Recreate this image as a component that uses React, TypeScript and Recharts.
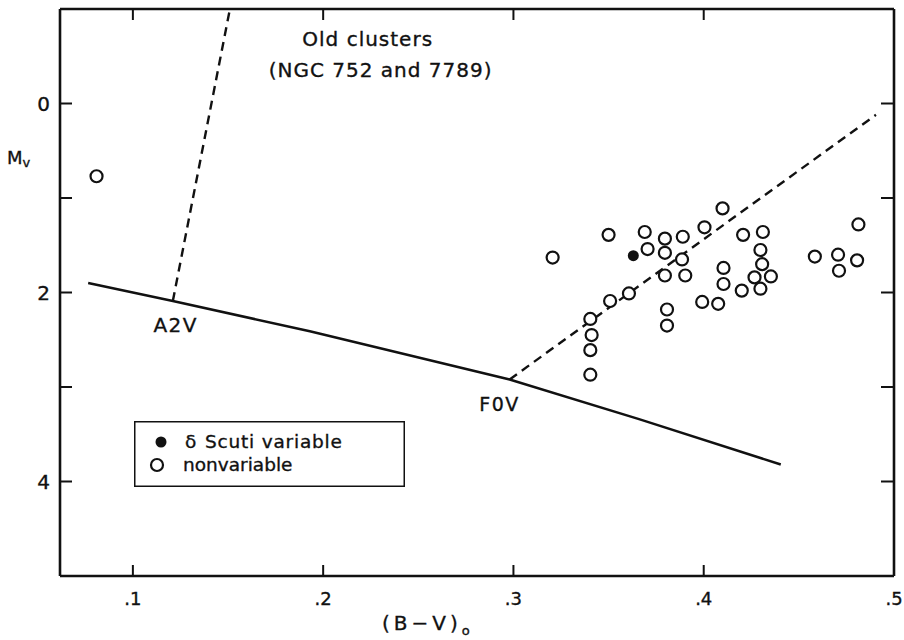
import React from "react";
import { ScatterChart, Scatter, XAxis, YAxis, ReferenceDot, Legend } from "recharts";

// (B-V)0 and Mv
const nonvarBV = [
  0.0809, 0.3206, 0.35, 0.369, 0.3705, 0.3796, 0.3796, 0.3796, 0.3807, 0.3807,
  0.389, 0.3886, 0.3903, 0.4004, 0.4099, 0.3607, 0.3508, 0.3404, 0.3411, 0.3404,
  0.3404, 0.3992, 0.4076, 0.4104, 0.4104, 0.42, 0.4207, 0.4311, 0.4298, 0.4307,
  0.4267, 0.4353, 0.4298, 0.4584, 0.4706, 0.4711, 0.4813, 0.4806,
];
const nonvarMv = [
  0.77, 1.63, 1.39, 1.36, 1.54, 1.43, 1.58, 1.82, 2.18, 2.35,
  1.41, 1.65, 1.82, 1.31, 1.11, 2.01, 2.09, 2.28, 2.45, 2.61,
  2.87, 2.1, 2.12, 1.74, 1.91, 1.98, 1.39, 1.36, 1.55, 1.7,
  1.84, 1.83, 1.96, 1.62, 1.6, 1.77, 1.28, 1.66,
];
const scutiBV = [0.363];
const scutiMv = [1.61];

// zero-age main sequence and the two cluster turnoff tracks
const zamsBV = [0.0765, 0.121, 0.193, 0.298, 0.366, 0.4405];
const zamsMv = [1.9, 2.09, 2.41, 2.92, 3.34, 3.82];
const a2vBV = [0.121, 0.151];
const a2vMv = [2.09, -1];
const f0vBV = [0.298, 0.4905];
const f0vMv = [2.92, 0.12];

const xTicks = [0.1, 0.2, 0.3, 0.4, 0.5];
const xTickLabels = [".1", ".2", ".3", ".4", ".5"];
const yTicks = [0, 1, 2, 3, 4];
const yTickLabels = ["0", "", "2", "", "4"];

const INK = "#111";
const FONT = "'DejaVu Sans', sans-serif";
// a hair of outline so the lettering is as heavy as the original
const heavy = { stroke: INK, strokeWidth: 0.35 };

const zip = (xs: number[], ys: number[]) => xs.map((bv, i) => ({ bv, mv: ys[i] }));

const notes = [
  { text: "Old clusters", bv: 0.2234, mv: -0.68, size: 20, spacing: 1 },
  { text: "(NGC 752 and 7789)", bv: 0.2302, mv: -0.35, size: 20, spacing: 1 },
  { text: "A2V", bv: 0.1225, mv: 2.34, size: 20, spacing: 1.5 },
  { text: "F0V", bv: 0.2927, mv: 3.18, size: 19, spacing: 1.5 },
];

const OpenCircle = (p: any) => (
  <circle cx={p.cx} cy={p.cy} r={6} fill="#fff" stroke={INK} strokeWidth={2.2} />
);
const FilledCircle = (p: any) => <circle cx={p.cx} cy={p.cy} r={5.5} fill={INK} />;
const NoMark = () => <g />;

const BottomTick = (p: any) => (
  <g>
    <line x1={p.x} y1={p.y} x2={p.x} y2={p.y - 11} stroke={INK} strokeWidth={2} />
    <text x={p.x} y={p.y + 29} textAnchor="middle" fontSize={18} fill={INK} fontFamily={FONT} {...heavy}>
      {xTickLabels[xTicks.indexOf(p.payload.value)]}
    </text>
  </g>
);
const TopTick = (p: any) => (
  <line x1={p.x} y1={p.y} x2={p.x} y2={p.y + 11} stroke={INK} strokeWidth={2} />
);
const LeftTick = (p: any) => (
  <g>
    <line x1={p.x} y1={p.y} x2={p.x + 12} y2={p.y} stroke={INK} strokeWidth={2} />
    <text x={p.x - 10} y={p.y + 7} textAnchor="end" fontSize={20} fill={INK} fontFamily={FONT} {...heavy}>
      {yTickLabels[yTicks.indexOf(p.payload.value)]}
    </text>
  </g>
);
const RightTick = (p: any) => (
  <line x1={p.x} y1={p.y} x2={p.x - 13} y2={p.y} stroke={INK} strokeWidth={2} />
);

const XTitle = () => (
  <text x={382} y={630} fill={INK} fontFamily={FONT} fontSize={20} letterSpacing={4} {...heavy}>
    (B−V)
    <tspan fontSize={13} dy={5} letterSpacing={0}>o</tspan>
  </text>
);
const YTitle = () => (
  <text x={7} y={164} fill={INK} fontFamily={FONT} fontSize={18} {...heavy}>
    M<tspan fontSize={13} dy={3}>v</tspan>
  </text>
);

const LegendBox = () => (
  <svg width={271} height={66}>
    <rect x={0.75} y={0.75} width={269.5} height={64.5} fill="#fff" stroke={INK} strokeWidth={1.5} />
    <circle cx={27} cy={21} r={5.5} fill={INK} />
    <text x={51} y={27} fontSize={18.5} fill={INK} fontFamily={FONT} {...heavy}>δ</text>
    <text x={71} y={27} fontSize={18.5} letterSpacing={0.8} fill={INK} fontFamily={FONT} {...heavy}>
      Scuti variable
    </text>
    <circle cx={23} cy={44} r={6} fill="#fff" stroke={INK} strokeWidth={2.2} />
    <text x={49} y={50} fontSize={18.5} fill={INK} fontFamily={FONT} {...heavy}>nonvariable</text>
  </svg>
);

const axisLine = { stroke: INK, strokeWidth: 2.6 };

export default function App() {
  return (
    <div style={{ position: "absolute", left: 0, top: 0, width: 904, height: 640, background: "#fff" }}>
      <ScatterChart width={904} height={640} margin={{ top: 0, right: 0, bottom: 0, left: 0 }}>
        <XAxis
          type="number"
          dataKey="bv"
          domain={[0.0617, 0.5]}
          ticks={xTicks}
          allowDataOverflow
          height={64}
          tickSize={0}
          tickMargin={0}
          tickLine={false}
          tick={BottomTick}
          axisLine={axisLine}
          label={{ content: XTitle }}
        />
        <XAxis
          xAxisId="top"
          orientation="top"
          type="number"
          dataKey="bv"
          domain={[0.0617, 0.5]}
          ticks={xTicks.slice(0, 4)}
          allowDataOverflow
          height={9}
          tickSize={0}
          tickMargin={0}
          tickLine={false}
          tick={TopTick}
          axisLine={axisLine}
        />
        <YAxis
          type="number"
          dataKey="mv"
          domain={[-1, 5]}
          reversed
          ticks={yTicks}
          allowDataOverflow
          width={60}
          tickSize={0}
          tickMargin={0}
          tickLine={false}
          tick={LeftTick}
          axisLine={axisLine}
          label={{ content: YTitle }}
        />
        <YAxis
          yAxisId="right"
          orientation="right"
          type="number"
          dataKey="mv"
          domain={[-1, 5]}
          reversed
          ticks={yTicks}
          allowDataOverflow
          width={10}
          tickSize={0}
          tickMargin={0}
          tickLine={false}
          tick={RightTick}
          axisLine={axisLine}
        />

        <Scatter
          data={zip(zamsBV, zamsMv)}
          line={{ stroke: INK, strokeWidth: 2.5 }}
          shape={NoMark}
          legendType="none"
          isAnimationActive={false}
        />
        <Scatter
          data={zip(a2vBV, a2vMv)}
          line={{ stroke: INK, strokeWidth: 2.4, strokeDasharray: "9 6" }}
          shape={NoMark}
          legendType="none"
          isAnimationActive={false}
        />
        <Scatter
          data={zip(f0vBV, f0vMv)}
          line={{ stroke: INK, strokeWidth: 2.4, strokeDasharray: "9 6" }}
          shape={NoMark}
          legendType="none"
          isAnimationActive={false}
        />
        <Scatter name="nonvariable" data={zip(nonvarBV, nonvarMv)} shape={OpenCircle} isAnimationActive={false} />
        <Scatter name="δ Scuti variable" data={zip(scutiBV, scutiMv)} shape={FilledCircle} isAnimationActive={false} />

        {notes.map((n) => (
          <ReferenceDot
            key={n.text}
            x={n.bv}
            y={n.mv}
            r={0}
            fill="none"
            stroke="none"
            label={{
              content: (p: any) => (
                <text
                  x={p.viewBox.x}
                  y={p.viewBox.y}
                  textAnchor="middle"
                  dominantBaseline="central"
                  fontSize={n.size}
                  letterSpacing={n.spacing}
                  fill={INK}
                  fontFamily={FONT}
                  {...heavy}
                >
                  {n.text}
                </text>
              ),
            }}
          />
        ))}

        <Legend
          layout="vertical"
          align="center"
          verticalAlign="middle"
          wrapperStyle={{ left: 134, top: 421, width: 271, height: 66 }}
          content={LegendBox}
        />
      </ScatterChart>
    </div>
  );
}
